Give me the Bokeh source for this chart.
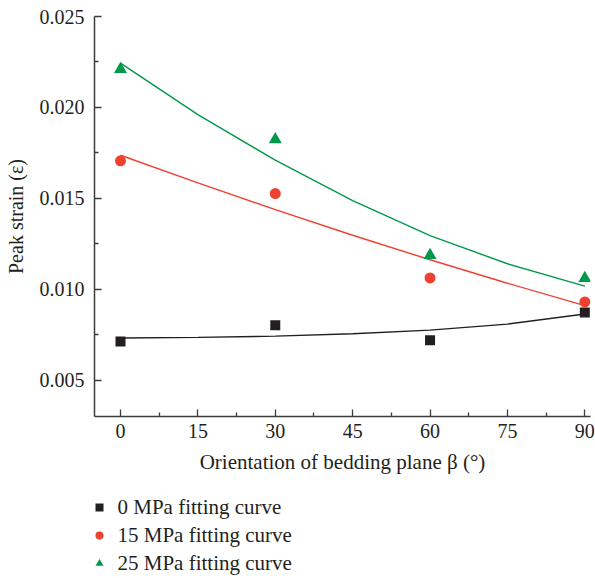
from bokeh.plotting import figure
from bokeh.layouts import column
from bokeh.models import Range1d, FixedTicker, PrintfTickFormatter, Legend, LegendItem
from bokeh.embed import file_html
from bokeh.resources import INLINE

# measured points
angles = [0, 30, 60, 90]
strain_0 = [0.00713, 0.00802, 0.00719, 0.00872]
strain_15 = [0.01706, 0.01526, 0.01062, 0.00930]
strain_25 = [0.02210, 0.01824, 0.01187, 0.01060]

# fitting curves
fit_angles = [0, 15, 30, 45, 60, 75, 90]
fit_0 = [0.00732, 0.00735, 0.00742, 0.00755, 0.00775, 0.00808, 0.00864]
fit_15 = [0.01737, 0.01585, 0.01438, 0.01297, 0.01162, 0.01033, 0.00910]
fit_25 = [0.02244, 0.01960, 0.01710, 0.01487, 0.01295, 0.01140, 0.01017]

labels = ["0 MPa fitting curve", "15 MPa fitting curve", "25 MPa fitting curve"]
x_ticks = [0, 15, 30, 45, 60, 75, 90]
x_minor = [7.5, 22.5, 37.5, 52.5, 67.5, 82.5]
y_ticks = [0.005, 0.010, 0.015, 0.020, 0.025]
y_minor = [0.0075, 0.0125, 0.0175, 0.0225]

BLACK = "#231f20"
RED = "#ef4130"
GREEN = "#00994a"
AXIS = "#3c3c3c"
FONT = "Liberation Serif"

p = figure(width=595, height=480, output_backend="svg",
           toolbar_location=None, x_range=Range1d(-5.04, 91.1),
           y_range=Range1d(0.003, 0.025),
           min_border_left=94, min_border_top=16, min_border_right=5,
           min_border_bottom=64)
p.outline_line_color = None
p.grid.visible = False
p.background_fill_color = "white"
p.border_fill_color = "white"

p.line(fit_angles, fit_0, line_color=BLACK, line_width=1.4)
p.line(fit_angles, fit_15, line_color=RED, line_width=1.4)
p.line(fit_angles, fit_25, line_color=GREEN, line_width=1.4)
p.scatter(angles, strain_0, marker="square", size=10, fill_color=BLACK, line_color=None)
p.scatter(angles, strain_15, marker="circle", size=11, fill_color=RED, line_color=None)
p.scatter(angles, strain_25, marker="triangle", size=13, fill_color=GREEN, line_color=None)

p.xaxis.ticker = FixedTicker(ticks=x_ticks, minor_ticks=x_minor)
p.yaxis.ticker = FixedTicker(ticks=y_ticks, minor_ticks=y_minor)
p.yaxis.formatter = PrintfTickFormatter(format="%.3f")

for ax in (p.xaxis[0], p.yaxis[0]):
    ax.axis_line_color = AXIS
    ax.axis_line_width = 1.5
    ax.major_tick_line_color = AXIS
    ax.minor_tick_line_color = AXIS
    ax.major_tick_line_width = 1.3
    ax.minor_tick_line_width = 1.3
    ax.major_tick_in = 7
    ax.major_tick_out = 0
    ax.minor_tick_in = 4
    ax.minor_tick_out = 0
    ax.major_label_text_font = FONT
    ax.major_label_text_font_size = "20px"
    ax.major_label_text_color = "#231f20"
    ax.axis_label_text_font = FONT
    ax.axis_label_text_font_style = "normal"
    ax.axis_label_text_color = "#231f20"

p.xaxis.axis_label_text_font_size = "21px"
p.yaxis.axis_label_text_font_size = "20px"
p.xaxis.axis_label = "Orientation of bedding plane \u03b2 (\u00b0)"
p.yaxis.axis_label = "Peak strain (\u03b5)"
p.xaxis.major_label_standoff = 7
p.xaxis.axis_label_standoff = 9
p.yaxis.major_label_standoff = 10
p.yaxis.axis_label_standoff = 10

# legend panel below the chart (its data lie outside its view)
lg = figure(width=595, height=98, output_backend="svg", toolbar_location=None,
            x_range=Range1d(1000, 1001), y_range=Range1d(1000, 1001),
            x_axis_location=None, y_axis_location=None,
            min_border_left=0, min_border_right=0, min_border_top=0,
            min_border_bottom=0)
lg.grid.visible = False
lg.outline_line_color = None
lg.border_fill_color = "white"
lg.background_fill_color = "white"
l0 = lg.scatter(angles, strain_0, marker="square", size=10, fill_color=BLACK, line_color=None)
l15 = lg.scatter(angles, strain_15, marker="circle", size=11, fill_color=RED, line_color=None)
l25 = lg.scatter(angles, strain_25, marker="triangle", size=13, fill_color=GREEN, line_color=None)

legend = Legend(items=[LegendItem(label=labels[0], renderers=[l0]),
                       LegendItem(label=labels[1], renderers=[l15]),
                       LegendItem(label=labels[2], renderers=[l25])],
                location=(-5.5, 2.5), orientation="vertical",
                border_line_color=None, background_fill_alpha=0,
                glyph_width=20, glyph_height=20,
                spacing=3, margin=0, padding=0, label_standoff=9,
                label_height=20)
legend.label_text_font = FONT
legend.label_text_font_size = "21px"
legend.label_text_font_style = "normal"
legend.label_text_color = "#231f20"
lg.add_layout(legend, "center")

layout = column(p, lg, spacing=0)
open("out.html", "w").write(file_html(layout, INLINE))
